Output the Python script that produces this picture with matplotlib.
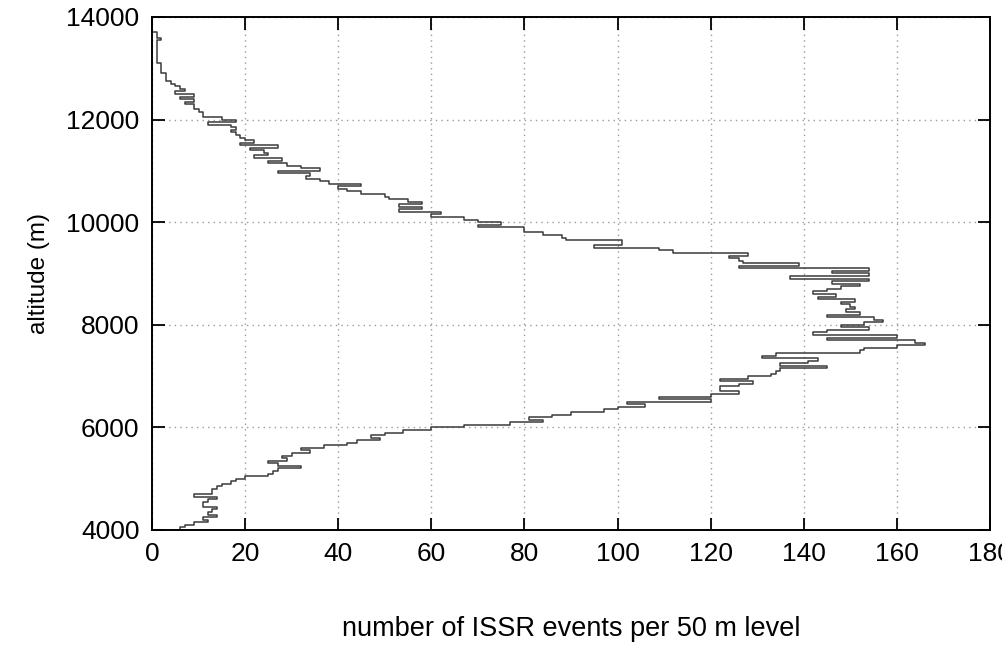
import matplotlib
matplotlib.use("Agg")
import matplotlib.pyplot as plt
import numpy as np

# altitude levels (bottom of each 50 m level)
altitude = list(range(4000, 14000, 50))

# number of ISSR events per 50 m level (bottom to top)
events = [
    5, 6, 7, 9, 12, 11, 14, 12, 13, 14,          # 4000-4450
    11, 11, 12, 14, 9, 13, 13, 14, 15, 17,        # 4500-4950
    18, 20, 25, 26, 27, 32, 27, 25, 29, 28,       # 5000-5450
    30, 34, 32, 37, 42, 44, 49, 47, 50, 54,       # 5500-5950
    60, 67, 77, 84, 81, 86, 90, 97, 100, 106,     # 6000-6450
    102, 120, 109, 120, 126, 122, 122, 126, 129, 122,  # 6500-6950
    128, 133, 134, 135, 145, 135, 141, 143, 131, 134,  # 7000-7450
    152, 153, 160, 166, 164, 145, 160, 142, 145, 154,  # 7500-7950
    148, 153, 157, 155, 145, 152, 149, 151, 150, 148,  # 8000-8450
    151, 143, 147, 142, 145, 148, 152, 146, 154, 137,  # 8500-8950
    154, 146, 154, 126, 139, 127, 126, 124, 128, 112,  # 9000-9450
    109, 95, 101, 101, 89, 88, 84, 80, 80, 70,    # 9500-9950
    75, 70, 67, 60, 62, 53, 58, 53, 58, 55,       # 10000-10450
    51, 50, 45, 42, 40, 45, 38, 36, 33, 34,       # 10500-10950
    27, 36, 32, 29, 25, 28, 22, 25, 24, 21,       # 11000-11450
    27, 19, 22, 20, 19, 18, 17, 18, 17, 12,       # 11500-11950
    18, 15, 11, 11, 10, 9, 9, 7, 9, 6,            # 12000-12450
    9, 5, 7, 6, 5, 4, 3, 3, 3, 2,                 # 12500-12950
    2, 2, 2, 1, 1, 1, 1, 1, 1, 1,                 # 13000-13450
    1, 1, 2, 1, 1, 0, 0, 0, 0, 0,                 # 13500-13950
]

x_ticks = [0, 20, 40, 60, 80, 100, 120, 140, 160, 180]
y_ticks = [4000, 6000, 8000, 10000, 12000, 14000]

plt.rcParams['font.family'] = ['Liberation Sans', 'DejaVu Sans']

fig = plt.figure(figsize=(10.03, 6.46), dpi=100)
ax = fig.add_axes([0.1515, 0.1796, 0.8355, 0.7941])

ax.plot(events, altitude, drawstyle='steps-post', color='#3a3a3a', lw=1.1)

ax.set_xlim(0, 180)
ax.set_ylim(4000, 14000)
ax.set_xticks(x_ticks)
ax.set_yticks(y_ticks)
ax.grid(True, color='#9a9a9a', linestyle=(0, (1, 3)), linewidth=1.0)
ax.set_axisbelow(True)
ax.tick_params(direction='in', length=9, width=1.3, top=True, right=True,
               labelsize=19, pad=9)
for s in ax.spines.values():
    s.set_linewidth(1.4)

ax.set_xlabel('number of ISSR events per 50 m level', fontsize=19.5, labelpad=36)
ax.set_ylabel('altitude (m)', fontsize=17.5, labelpad=12)

fig.savefig('out.png', dpi=100)
